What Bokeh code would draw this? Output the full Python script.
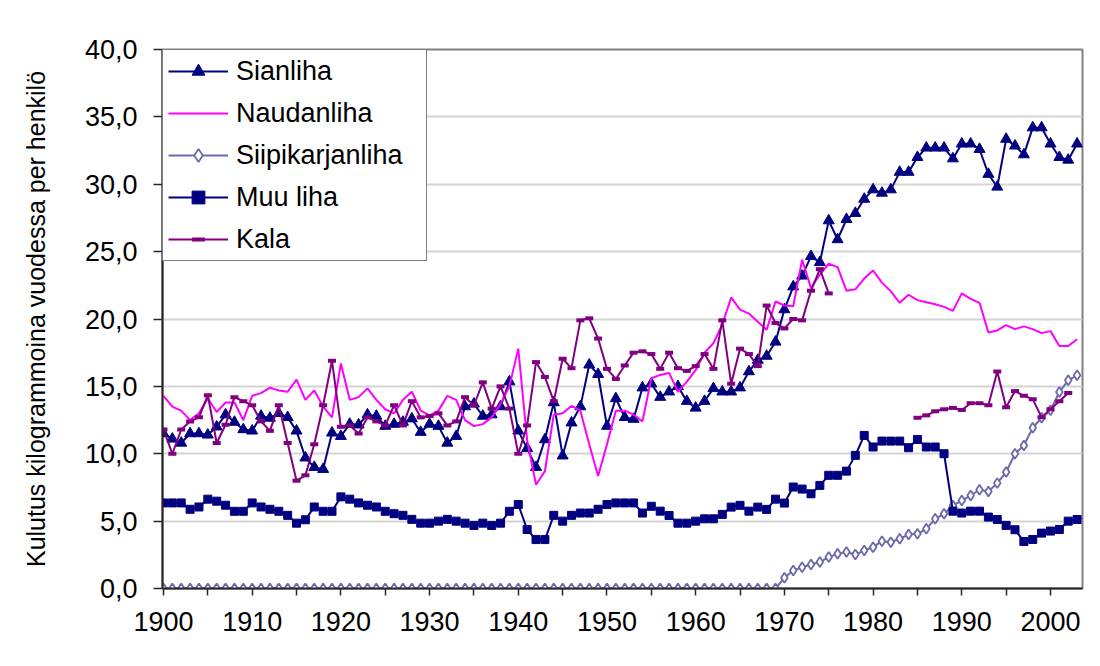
import numpy as np
from bokeh.plotting import figure
from bokeh.models import (Range1d, FixedTicker, CustomJSTickFormatter, Legend,
                          LegendItem, ColumnDataSource)
from bokeh.embed import file_html
from bokeh.resources import INLINE

nan = float("nan")

years = list(range(1900, 2004))

sianliha = [
    11.5, 11.1, 10.8, 11.5, 11.5, 11.4, 12.0, 12.9, 12.35, 11.8,
    11.7, 12.8, 12.65, 13.0, 12.7, 11.7, 9.7, 9.0, 8.85, 11.55,
    11.3, 12.2, 12.15, 12.9, 12.8, 12.05, 12.2, 12.35, 12.6, 11.6,
    12.2, 12.05, 10.8, 11.3, 13.5, 13.7, 12.8, 12.9, 13.5, 15.35,
    11.7, 10.4, 9.0, 11.05, 13.8, 9.85, 12.3, 13.5, 16.6, 15.9,
    12.05, 14.1, 12.7, 12.57, 14.9, 15.2, 14.2, 14.6, 15.0, 13.9,
    13.4, 13.9, 14.85, 14.6, 14.6, 14.9, 16.1, 16.95, 17.25, 18.3,
    20.7, 22.4, 23.2, 24.65, 24.2, 27.3, 25.9, 27.4, 27.85, 28.9,
    29.6, 29.35, 29.6, 30.9, 30.9, 32.0, 32.7, 32.7, 32.7, 31.9,
    33.0, 33.0, 32.6, 30.75, 29.8, 33.35, 32.85, 32.2, 34.2, 34.2,
    33.0, 32.0, 31.8, 33.0,
]

naudanliha = [
    14.3, 13.5, 13.2, 12.5, 13.0, 14.1, 13.1, 13.8, 13.8, 12.5,
    14.3, 14.5, 14.9, 14.7, 14.6, 15.5, 14.0, 14.7, 13.5, 12.7,
    16.7, 14.0, 14.2, 14.85, 14.0, 13.3, 13.0, 14.0, 14.6, 13.2,
    12.85, 13.2, 14.3, 14.0, 12.5, 12.05, 12.2, 12.7, 13.7, 15.0,
    17.8, 11.0, 7.7, 8.7, 12.9, 13.0, 13.55, 13.2, 10.7, 8.35,
    10.7, 13.2, 13.2, 12.9, 12.4, 15.6, 15.85, 16.0, 14.6, 15.35,
    16.2, 17.5, 18.2, 19.6, 21.6, 20.7, 20.4, 19.8, 19.2, 21.3,
    21.0, 20.95, 24.4, 22.3, 23.3, 24.1, 23.85, 22.1, 22.2, 23.0,
    23.6, 22.7, 22.05, 21.2, 21.8, 21.4, 21.25, 21.1, 20.9, 20.6,
    21.9, 21.5, 21.2, 19.0, 19.15, 19.55, 19.25, 19.45, 19.25, 18.95,
    19.1, 18.0, 18.0, 18.5,
]

siipikarjanliha = [
    0.0, 0.0, 0.0, 0.0, 0.0, 0.0, 0.0, 0.0, 0.0, 0.0,
    0.0, 0.0, 0.0, 0.0, 0.0, 0.0, 0.0, 0.0, 0.0, 0.0,
    0.0, 0.0, 0.0, 0.0, 0.0, 0.0, 0.0, 0.0, 0.0, 0.0,
    0.0, 0.0, 0.0, 0.0, 0.0, 0.0, 0.0, 0.0, 0.0, 0.0,
    0.0, 0.0, 0.0, 0.0, 0.0, 0.0, 0.0, 0.0, 0.0, 0.0,
    0.0, 0.0, 0.0, 0.0, 0.0, 0.0, 0.0, 0.0, 0.0, 0.0,
    0.0, 0.0, 0.0, 0.0, 0.0, 0.0, 0.0, 0.0, 0.0, 0.0,
    0.79, 1.34, 1.58, 1.78, 1.96, 2.33, 2.57, 2.7, 2.52, 2.82,
    3.07, 3.51, 3.44, 3.69, 4.0, 4.06, 4.43, 5.17, 5.54, 6.16,
    6.53, 6.9, 7.33, 7.2, 7.82, 8.64, 10.0, 10.62, 11.93, 12.67,
    13.22, 14.58, 15.45, 15.82,
]

muu_liha = [
    6.35, 6.35, 6.35, 5.88, 6.05, 6.63, 6.48, 6.18, 5.73, 5.73,
    6.35, 6.05, 5.88, 5.73, 5.43, 4.85, 5.1, 6.05, 5.73, 5.73,
    6.8, 6.63, 6.35, 6.18, 6.05, 5.73, 5.55, 5.43, 5.13, 4.85,
    4.85, 5.0, 5.13, 5.0, 4.85, 4.68, 4.85, 4.68, 4.85, 5.73,
    6.23, 4.38, 3.63, 3.63, 5.43, 5.0, 5.43, 5.6, 5.6, 5.88,
    6.23, 6.35, 6.35, 6.35, 5.6, 6.1, 5.74, 5.42, 4.85, 4.85,
    5.0, 5.17, 5.17, 5.5, 6.04, 6.17, 5.74, 6.04, 5.87, 6.63,
    6.34, 7.53, 7.38, 7.03, 7.65, 8.4, 8.4, 8.71, 9.88, 11.36,
    10.5, 10.94, 10.94, 10.94, 10.45, 11.06, 10.5, 10.5, 10.0, 5.74,
    5.6, 5.74, 5.74, 5.3, 5.12, 4.68, 4.36, 3.49, 3.64, 4.11,
    4.26, 4.38, 5.0, 5.12,
]

kala = [
    11.8, 10.0, 11.8, 12.4, 12.7, 14.35, 10.8, 12.15, 14.2, 13.9,
    13.6, 12.4, 11.7, 13.6, 10.8, 8.0, 8.4, 10.7, 13.6, 16.9,
    12.0, 12.1, 11.5, 12.7, 12.4, 12.1, 13.6, 12.1, 13.9, 12.7,
    12.8, 13.0, 12.1, 12.4, 14.2, 13.6, 15.3, 13.35, 15.0, 13.35,
    10.0, 12.1, 16.8, 15.7, 13.9, 17.05, 16.35, 19.9, 20.05, 18.55,
    16.3, 15.55, 16.55, 17.5, 17.6, 17.4, 16.3, 17.5, 16.35, 16.15,
    16.5, 17.4, 16.3, 19.9, 15.2, 17.8, 17.4, 16.5, 21.0, 19.7,
    19.3, 20.0, 19.9, 22.1, 23.7, 21.9, nan, nan, nan, nan,
    nan, nan, nan, nan, nan, 12.67, 12.85, 13.15, 13.3, 13.4,
    13.25, 13.75, 13.75, 13.6, 16.1, 13.45, 14.65, 14.3, 14.05, 12.7,
    13.3, 13.9, 14.5, nan,
]

x_ticks = [1900, 1905, 1910, 1915, 1920, 1925, 1930, 1935, 1940, 1945, 1950,
           1955, 1960, 1965, 1970, 1975, 1980, 1985, 1990, 1995, 2000]
y_ticks = [0, 5, 10, 15, 20, 25, 30, 35, 40]

y_label = "Kulutus kilogrammoina vuodessa per henkilö"
series_names = ["Sianliha", "Naudanliha", "Siipikarjanliha", "Muu liha", "Kala"]

NAVY = "#000080"
MAGENTA = "#FF00FF"
LAVENDER = "#6A6AAA"
PURPLE = "#800080"
FONT = "Liberation Sans"

src = ColumnDataSource(dict(
    year=years,
    sian=np.array(sianliha, dtype=float),
    naud=np.array(naudanliha, dtype=float),
    siipi=np.array(siipikarjanliha, dtype=float),
    muu=np.array(muu_liha, dtype=float),
    kala=np.array(kala, dtype=float),
))

p = figure(width=1084, height=650,
           x_range=Range1d(1899.89, 2003.61), y_range=Range1d(0, 40),
           output_backend="svg", toolbar_location=None,
           min_border_left=162, min_border_right=2,
           min_border_top=49, min_border_bottom=62)

p.background_fill_color = "white"
p.border_fill_color = "white"
p.outline_line_color = "#808080"
p.outline_line_width = 2

# x axis
xa = p.xaxis[0]
xa.ticker = FixedTicker(ticks=x_ticks)
xa.formatter = CustomJSTickFormatter(
    code="return (Math.round(tick) % 10 == 0) ? tick.toFixed(0) : '';")
xa.major_label_text_font = FONT
xa.major_label_text_font_size = "27px"
xa.major_label_text_color = "black"
xa.major_tick_out = 7
xa.major_tick_in = 0
xa.minor_tick_out = 0
xa.minor_tick_in = 0
xa.axis_line_color = "#262626"
xa.axis_line_width = 2
xa.major_tick_line_color = "#262626"
xa.major_tick_line_width = 1.5
xa.major_label_standoff = 16

# y axis
ya = p.yaxis[0]
ya.ticker = FixedTicker(ticks=y_ticks)
ya.formatter = CustomJSTickFormatter(code="return tick.toFixed(1).replace('.', ',');")
ya.major_label_text_font = FONT
ya.major_label_text_font_size = "27px"
ya.major_label_text_color = "black"
ya.major_tick_out = 9
ya.major_tick_in = 0
ya.minor_tick_out = 0
ya.minor_tick_in = 0
ya.axis_line_color = "#262626"
ya.axis_line_width = 2
ya.major_tick_line_color = "#262626"
ya.major_tick_line_width = 1.5
ya.major_label_standoff = 16
ya.axis_label = y_label
ya.axis_label_text_font = FONT
ya.axis_label_text_font_size = "25px"
ya.axis_label_text_font_style = "normal"
ya.axis_label_text_color = "black"
ya.axis_label_standoff = 32

p.xgrid.visible = False
p.ygrid.grid_line_color = "#D4D4D4"
p.ygrid.grid_line_width = 2

# series
l1 = p.line("year", "sian", source=src, line_color=NAVY, line_width=2)
m1 = p.scatter("year", "sian", source=src, marker="triangle", size=11,
               fill_color=NAVY, line_color=NAVY)

l2 = p.line("year", "naud", source=src, line_color=MAGENTA, line_width=2)

l3 = p.line("year", "siipi", source=src, line_color=LAVENDER, line_width=2)
m3 = p.scatter("year", "siipi", source=src, marker="diamond",
               size=10, fill_color="white", line_color=LAVENDER, line_width=1.8)

l4 = p.line("year", "muu", source=src, line_color=NAVY, line_width=2)
m4 = p.scatter("year", "muu", source=src, marker="square", size=8,
               fill_color=NAVY, line_color=NAVY)

l5 = p.line("year", "kala", source=src, line_color=PURPLE, line_width=2)
m5 = p.scatter("year", "kala", source=src, marker="dash", size=8,
               line_color=PURPLE, line_width=4)

legend = Legend(items=[
    LegendItem(label=series_names[0], renderers=[l1, m1]),
    LegendItem(label=series_names[1], renderers=[l2]),
    LegendItem(label=series_names[2], renderers=[l3, m3]),
    LegendItem(label=series_names[3], renderers=[l4, m4]),
    LegendItem(label=series_names[4], renderers=[l5, m5]),
], location="top_left")
legend.margin = 0
legend.padding = 5
legend.spacing = 10
legend.glyph_width = 60
legend.glyph_height = 32
legend.label_height = 32
legend.label_width = 185
legend.label_standoff = 8
legend.label_text_font = FONT
legend.label_text_font_size = "27px"
legend.label_text_color = "black"
legend.border_line_color = "black"
legend.border_line_width = 1.5
legend.background_fill_color = "white"
legend.background_fill_alpha = 1.0
p.add_layout(legend)

open("out.html", "w").write(file_html(p, INLINE))
